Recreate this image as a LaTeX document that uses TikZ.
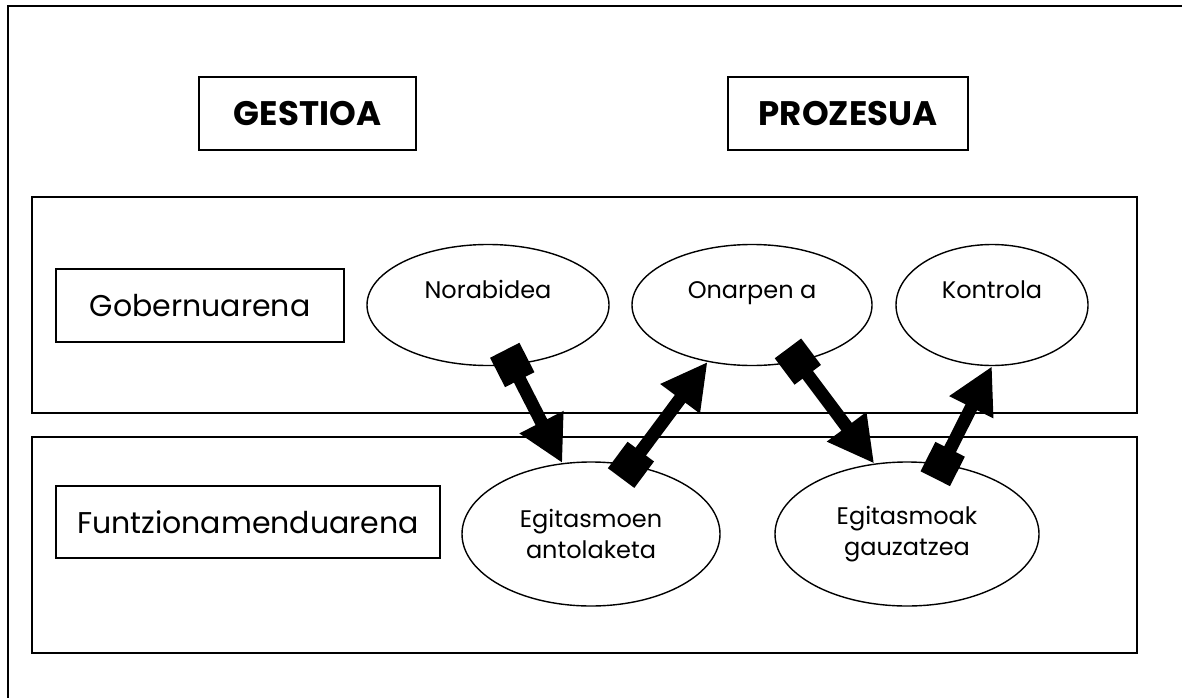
\documentclass[tikz,border=0pt]{standalone}
\usepackage{fontspec}
\setmainfont{Poppins}
\usetikzlibrary{shapes.geometric,arrows.meta}

\begin{document}
\begin{tikzpicture}[x=1pt,y=-1pt,%
% common options for the boxes:
block/.style = {draw, line width=1.6pt, align=center, inner sep=0,
            minimum height=73pt, font=\fontsize{30}{36}\selectfont},
head/.style = {block, font=\fontsize{34}{40}\selectfont\bfseries},
% common options for the ellipses:
ball/.style = {ellipse, draw, line width=1.4pt, align=center, inner sep=0,
            font=\fontsize{24}{31}\selectfont},
upper/.style = {ball, minimum height=121pt, text height=18pt, text depth=32pt},
lower/.style = {ball, minimum height=144pt},
% common options for the thick arrows:
link/.style = {line width=13pt, shorten <=-16.5pt,
            {Square[length=33pt,width=33pt]}-{Triangle[length=46pt,width=46pt]}}]
\useasboundingbox (0,0) rectangle (1182,698);
\draw[line width=1.6pt] (1182,6) -- (8,6) -- (8,698);
\draw[line width=1.6pt] (32,197) rectangle (1137,413);
\draw[line width=1.6pt] (32,437) rectangle (1137,653);
\node[head, minimum width=217pt] (gest) at (307.5,113.5) {GESTIOA};
\node[head, minimum width=240pt] (proz) at (848,113.5) {PROZESUA};
\node[block, minimum width=288pt] (gob) at (200,305.5) {Gobernuarena};
\node[block, minimum width=384pt, minimum height=72pt] (funt) at (248,522) {Funtzionamenduarena};
\node[upper, minimum width=242pt] (nora) at (488,305) {Norabidea};
\node[upper, minimum width=240pt] (onar) at (752,305) {Onarpen a};
\node[upper, minimum width=192pt] (kont) at (992,305) {Kontrola};
\node[lower, minimum width=258pt] (antol) at (591,534) {Egitasmoen\\antolaketa};
\node[lower, minimum width=264pt] (gauz) at (907,534) {Egitasmoak\\gauzatzea};
\draw[link] (nora.-68) -- (antol.112);
\draw[link] (antol.60) -- (onar.-128);
\draw[link] (onar.-51) -- (gauz.115);
\draw[link] (gauz.63) -- (kont.-90);
\end{tikzpicture}
\end{document}
